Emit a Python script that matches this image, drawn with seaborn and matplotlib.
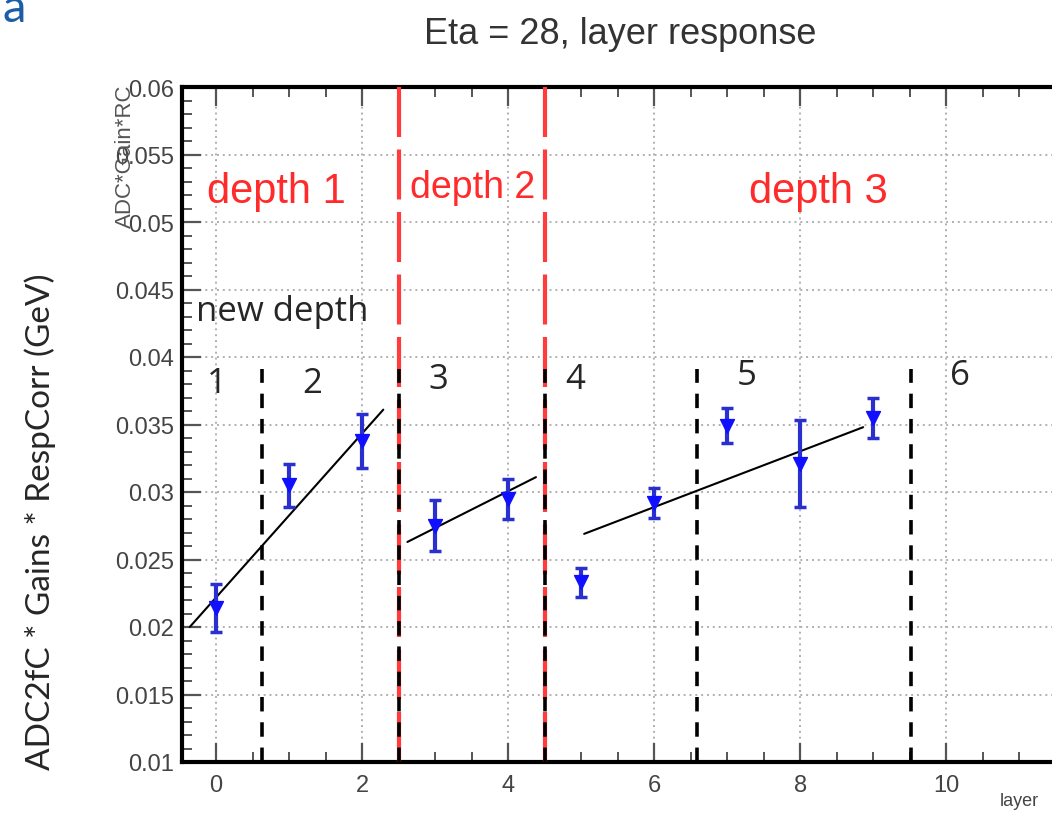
import matplotlib
matplotlib.use("Agg")
import matplotlib.pyplot as plt
from matplotlib.ticker import MultipleLocator
import numpy as np
import seaborn as sns

# ---- data ----
layers = [0, 1, 2, 3, 4, 5, 6, 7, 8, 9]
response = [0.0214, 0.0305, 0.0338, 0.0275, 0.0295, 0.0233, 0.0292, 0.0349, 0.0321, 0.0355]
resp_err = [0.0018, 0.0016, 0.0020, 0.0019, 0.0015, 0.0011, 0.0011, 0.0013, 0.0032, 0.0015]

# hand drawn fit lines (x pairs, y pairs)
fit_x = [[-0.36, 2.29], [2.62, 4.38], [5.04, 8.86]]
fit_y = [[0.0200, 0.0361], [0.0263, 0.0311], [0.0269, 0.0348]]

red_bounds = [2.5, 4.5]
black_bounds = [0.63, 2.5, 4.5, 6.59, 9.52]

depth_names = ["depth 1", "depth 2", "depth 3"]
depth_x = [-0.12, 2.66, 7.29]
depth_y = [0.0523, 0.0526, 0.0523]
depth_size = [30, 27, 30]

seg_names = ["1", "2", "3", "4", "5", "6"]
seg_x = [0.01, 1.32, 3.04, 4.92, 7.27, 10.19]
seg_y = [0.0381, 0.0381, 0.0384, 0.0384, 0.0387, 0.0387]

sns.set_style("white")
plt.rcParams['font.family'] = ['Liberation Sans', 'DejaVu Sans']

fig = plt.figure(figsize=(10.52, 8.2), dpi=100)
ax = fig.add_axes([182 / 1052, 57 / 820, (1056 - 182) / 1052, 675 / 820])

# grid like ROOT: dotted at major ticks
ax.set_xlim(-0.466, 11.5)
ax.set_ylim(0.01, 0.06)
ax.xaxis.set_major_locator(MultipleLocator(2))
ax.xaxis.set_minor_locator(MultipleLocator(0.5))
ax.yaxis.set_major_locator(MultipleLocator(0.005))
ax.yaxis.set_minor_locator(MultipleLocator(0.001))
ax.grid(True, which='major', color='#b0b0b0', linestyle=(0, (1, 2)), linewidth=1.4)

for b in red_bounds:
    ax.axvline(b, color='#ff3b3b', lw=3, ls=(0, (12, 3)), zorder=3)
for b in black_bounds:
    ax.axvline(b, ymax=(0.0391 - 0.01) / 0.05, color='black', lw=2.6, ls=(0, (4, 3)), zorder=4)

for fx, fy in zip(fit_x, fit_y):
    sns.lineplot(x=fx, y=fy, color='black', lw=1.5, ax=ax, zorder=5)

ax.errorbar(layers, response, yerr=resp_err, fmt='none', ecolor='#2a2fd0',
            elinewidth=3, capsize=4, capthick=2.5, zorder=6)
sns.scatterplot(x=layers, y=response, marker='v', s=100, color='#1010ff',
                edgecolor='#1010ff', linewidth=1, ax=ax, zorder=7)

for name, x, y, s in zip(depth_names, depth_x, depth_y, depth_size):
    ax.text(x, y, name, color='#ff2a2a', fontsize=s, ha='left', va='center', zorder=8)

ax.text(-0.27, 0.0434, "new depth", fontsize=25, family=['Open Sans', 'DejaVu Sans'],
        ha='left', va='center', zorder=8)
for name, x, y in zip(seg_names, seg_x, seg_y):
    ax.text(x, y, name, fontsize=25, family=['Open Sans', 'DejaVu Sans'],
            ha='center', va='center', zorder=8)

ax.tick_params(axis='both', which='both', direction='in', top=True, bottom=True,
               left=True, right=False, color='#555555')
ax.tick_params(axis='both', which='major', length=14, width=1.6, labelsize=17,
               labelcolor='#444444')
ax.tick_params(axis='both', which='minor', length=7, width=1.4)
ax.tick_params(axis='y', which='major', pad=6)
ax.tick_params(axis='x', which='major', pad=9)
ax.yaxis.set_major_formatter(matplotlib.ticker.FuncFormatter(lambda v, p: f"{v:g}"))
for side in ['left', 'top', 'bottom', 'right']:
    ax.spines[side].set_linewidth(3)
    ax.spines[side].set_color('black')
ax.set_xlabel("")
ax.set_ylabel("")

fig.text(620 / 1052, 1 - 35 / 820, "Eta = 28, layer response", fontsize=26,
         color='#333333', ha='center', va='center')
fig.text(0.002, 1 - 22 / 820, "a", fontsize=34, color='#1a5ea8',
         family=['Lato', 'DejaVu Sans'], ha='left', va='baseline')
fig.text(40 / 1052, 1 - 522 / 820, "ADC2fC * Gains * RespCorr (GeV)", fontsize=24,
         rotation=90, ha='center', va='center', family=['Lato', 'DejaVu Sans'])
fig.text(125 / 1052, 1 - 84 / 820, "ADC*Gain*RC", fontsize=16, color='#555555',
         rotation=90, ha='center', va='top')
fig.text(1000 / 1052, 1 - 802 / 820, "layer", fontsize=13, color='#444444',
         ha='left', va='center')

fig.savefig("out.png", dpi=100)
